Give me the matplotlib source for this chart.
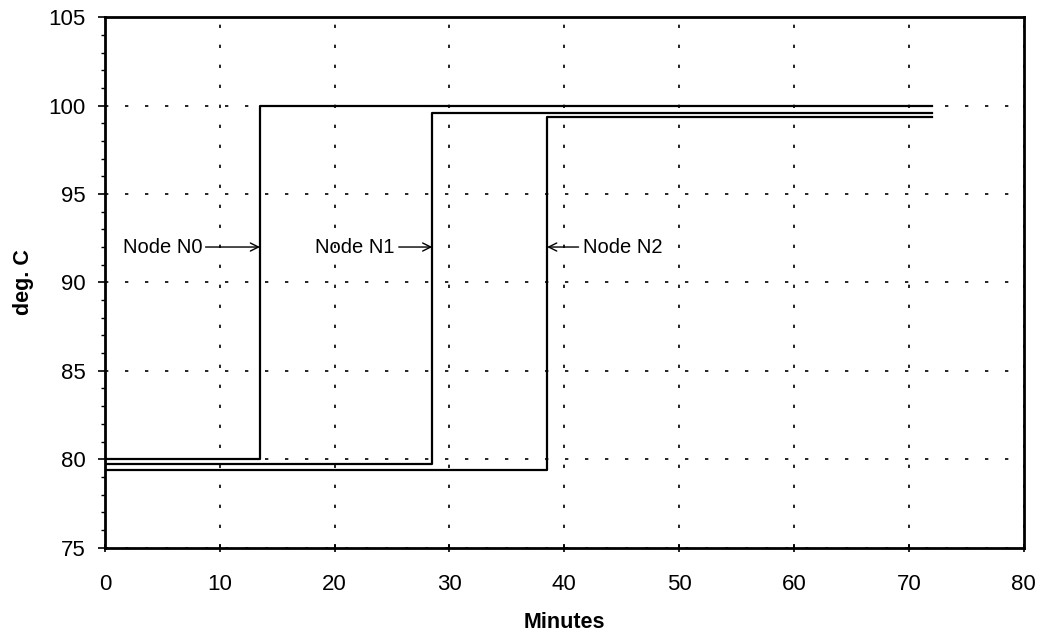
import numpy as np
import matplotlib.pyplot as plt
from matplotlib.ticker import MultipleLocator

plt.rcParams['font.family'] = ['Liberation Sans', 'DejaVu Sans']

# datos
nodos = ["Node N0", "Node N1", "Node N2"]
t_salto = [13.5, 28.5, 38.5]      # minutos
temp_baja = [80.0, 79.7, 79.4]    # deg. C
temp_alta = [100.0, 99.6, 99.35]
t_fin = 72.0
y_flecha = 92.0

fig = plt.figure(figsize=(10.49, 6.36), dpi=100)
ax = fig.add_axes([0.100, 0.139, 0.876, 0.834])

for ts, tb, ta in zip(t_salto, temp_baja, temp_alta):
    t = [0, ts, ts, t_fin]
    y = [tb, tb, ta, ta]
    ax.plot(t, y, color='black', linewidth=1.6)

# anotaciones con flecha
ax.annotate(nodos[0], xy=(t_salto[0], y_flecha), xytext=(1.6, y_flecha),
            va='center', ha='left', fontsize=14.5,
            arrowprops=dict(arrowstyle='->', color='black', lw=1, shrinkA=0, shrinkB=0))
ax.annotate(nodos[1], xy=(t_salto[1], y_flecha), xytext=(18.3, y_flecha),
            va='center', ha='left', fontsize=14.5,
            arrowprops=dict(arrowstyle='->', color='black', lw=1, shrinkA=1, shrinkB=0))
ax.annotate(nodos[2], xy=(t_salto[2], y_flecha), xytext=(41.6, y_flecha),
            va='center', ha='left', fontsize=14.5,
            arrowprops=dict(arrowstyle='->', color='black', lw=1, shrinkA=1, shrinkB=0))

ax.set_xlim(0, 80)
ax.set_ylim(75, 105)
ax.xaxis.set_major_locator(MultipleLocator(10))
ax.yaxis.set_major_locator(MultipleLocator(5))
ax.yaxis.set_minor_locator(MultipleLocator(1))
ax.tick_params(axis='both', labelsize=16, colors='black', width=1.2)
ax.tick_params(axis='x', direction='inout', length=6, pad=16)
ax.tick_params(axis='y', which='major', length=5, pad=9)
ax.tick_params(axis='y', which='minor', length=3, width=1)

ax.grid(True, which='major', color='black', linestyle=(0, (2, 10)), linewidth=1.2)

for s in ax.spines.values():
    s.set_linewidth(2)

ax.set_xlabel("Minutes", fontsize=15.5, fontweight='bold', labelpad=12)
ax.set_ylabel("deg. C", fontsize=15.5, fontweight='bold', labelpad=10)

plt.savefig("out.png", dpi=100)
